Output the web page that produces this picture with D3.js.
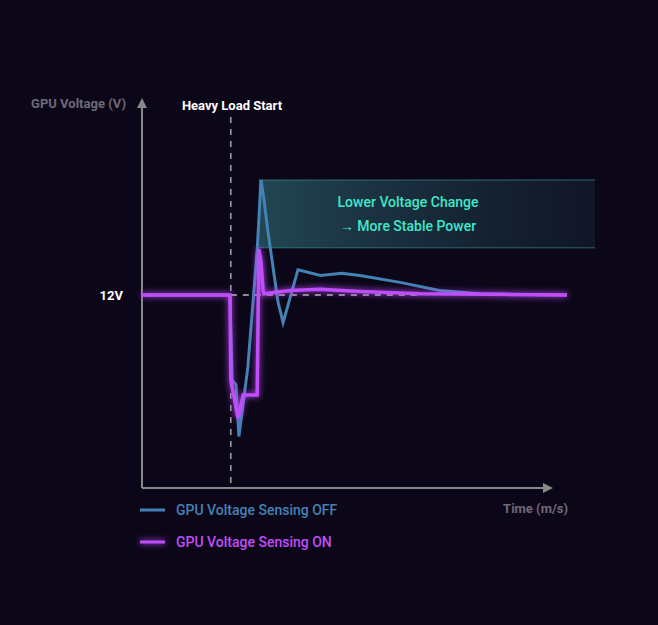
<!DOCTYPE html><html><head><meta charset="utf-8">
<script src="https://cdn.jsdelivr.net/npm/d3@7"></script>
<style>body{margin:0;background:#0c0619;font-family:Roboto,sans-serif}</style></head><body>
<svg id="c" width="658" height="625"></svg>
<script>
const offSeries=[[0,12],[20.7,12],[21.2,11.26],[22.1,11.22],[22.8,10.77],[24.9,11.37],[27.1,12.39],[28.0,13.0],[28.7,12.83],[29.6,12.56],[32,11.94],[33.2,11.76],[36.7,12.22],[42,12.17],[47,12.19],[51.3,12.17],[60.7,12.11],[70,12.04],[79.5,12.01],[100,12]];
const onSeries=[[0,12],[20.7,12],[20.9,11.26],[22.6,10.93],[23.8,11.13],[27.1,11.13],[27.5,12.4],[28.0,12.28],[28.5,12.04],[28.7,12.01],[34.8,12.04],[41.9,12.05],[51.3,12.03],[65.4,12.01],[100,12]];
const loadStart=20.9, refV=12, bandLo=12.41, bandHi=13.0;
const labels={y:"GPU Voltage (V)",x:"Time (m/s)",event:"Heavy Load Start",tick:"12V",note1:"Lower Voltage Change",note2:"→ More Stable Power",off:"GPU Voltage Sensing OFF",on:"GPU Voltage Sensing ON"};
const svg=d3.select("#c");
const x=d3.scaleLinear().domain([0,100]).range([142,567]);
const y=d3.scaleLinear().domain([12,13]).range([295,180]);
const defs=svg.append("defs");
const f=defs.append("filter").attr("id","glow").attr("filterUnits","userSpaceOnUse").attr("x",0).attr("y",0).attr("width",658).attr("height",625);
f.append("feGaussianBlur").attr("stdDeviation",3).attr("result","b");
const m=f.append("feMerge");m.append("feMergeNode").attr("in","b");m.append("feMergeNode").attr("in","SourceGraphic");
const g=defs.append("linearGradient").attr("id","bg");
g.append("stop").attr("offset","0").attr("stop-color","#2a5c66").attr("stop-opacity",0.75);
g.append("stop").attr("offset","1").attr("stop-color","#1a3a48").attr("stop-opacity",0.3);
const ar=defs.append("marker").attr("id","ar").attr("viewBox","0 0 10 10").attr("refX",5).attr("refY",5).attr("markerWidth",5).attr("markerHeight",5).attr("orient","auto-start-reverse");
ar.append("path").attr("d","M0,0L10,5L0,10z").attr("fill","#888");
svg.append("rect").attr("x",x(27.5)).attr("y",y(bandHi)).attr("width",595-x(27.5)).attr("height",y(bandLo)-y(bandHi)).attr("fill","url(#bg)");
svg.append("line").attr("x1",x(27.5)).attr("x2",595).attr("y1",y(bandHi)).attr("y2",y(bandHi)).attr("stroke","#3fa0a0").attr("stroke-opacity",0.6);
svg.append("line").attr("x1",x(27.5)).attr("x2",595).attr("y1",y(bandLo)).attr("y2",y(bandLo)).attr("stroke","#3fa0a0").attr("stroke-opacity",0.6);
svg.append("text").attr("x",408).attr("y",207).attr("text-anchor","middle").attr("fill","#3ee8c8").attr("font-size",14).attr("font-weight",500).text(labels.note1);
svg.append("text").attr("x",408).attr("y",231).attr("text-anchor","middle").attr("fill","#3ee8c8").attr("font-size",14).attr("font-weight",500).text(labels.note2);
svg.append("line").attr("x1",x(0)).attr("x2",x(0)).attr("y1",488).attr("y2",103).attr("stroke","#888").attr("stroke-width",2).attr("marker-end","url(#ar)");
svg.append("line").attr("x1",x(0)).attr("x2",548).attr("y1",488).attr("y2",488).attr("stroke","#888").attr("stroke-width",2).attr("marker-end","url(#ar)");
svg.append("text").attr("x",126).attr("y",108).attr("text-anchor","end").attr("fill","#6e6a78").attr("font-size",13).attr("font-weight","bold").text(labels.y);
svg.append("text").attr("x",568).attr("y",513).attr("text-anchor","end").attr("fill","#6e6a78").attr("font-size",13).attr("font-weight","bold").text(labels.x);
svg.append("text").attr("x",123).attr("y",y(refV)+5).attr("text-anchor","end").attr("fill","#fff").attr("font-size",13).attr("font-weight","bold").text(labels.tick);
svg.append("text").attr("x",232).attr("y",110).attr("text-anchor","middle").attr("fill","#fff").attr("font-size",13).attr("font-weight","bold").text(labels.event);
svg.append("line").attr("x1",x(loadStart)).attr("x2",x(loadStart)).attr("y1",117).attr("y2",488).attr("stroke","#bbb").attr("stroke-dasharray","6,6").attr("stroke-width",1.3);
svg.append("line").attr("x1",x(loadStart)).attr("x2",x(65)).attr("y1",y(refV)).attr("y2",y(refV)).attr("stroke","#bbb").attr("stroke-dasharray","6,6").attr("stroke-width",1.3);
const line=d3.line().x(d=>x(d[0])).y(d=>y(d[1]));
svg.append("path").attr("d",line(offSeries)).attr("fill","none").attr("stroke","#4382b4").attr("stroke-width",3);
svg.append("path").attr("d",line(onSeries)).attr("fill","none").attr("stroke","#c04dfa").attr("stroke-width",3.5).attr("filter","url(#glow)");
[[labels.off,"#4382b4",510,null],[labels.on,"#c04dfa",542,"url(#glow)"]].forEach(([t,c,yy,fl])=>{
 svg.append("line").attr("x1",140).attr("x2",165).attr("y1",yy).attr("y2",yy).attr("stroke",c).attr("stroke-width",3).attr("filter",fl);
 svg.append("text").attr("x",176).attr("y",yy+5).attr("fill",c).attr("font-size",14).attr("font-weight",500).text(t);
});
</script></body></html>
